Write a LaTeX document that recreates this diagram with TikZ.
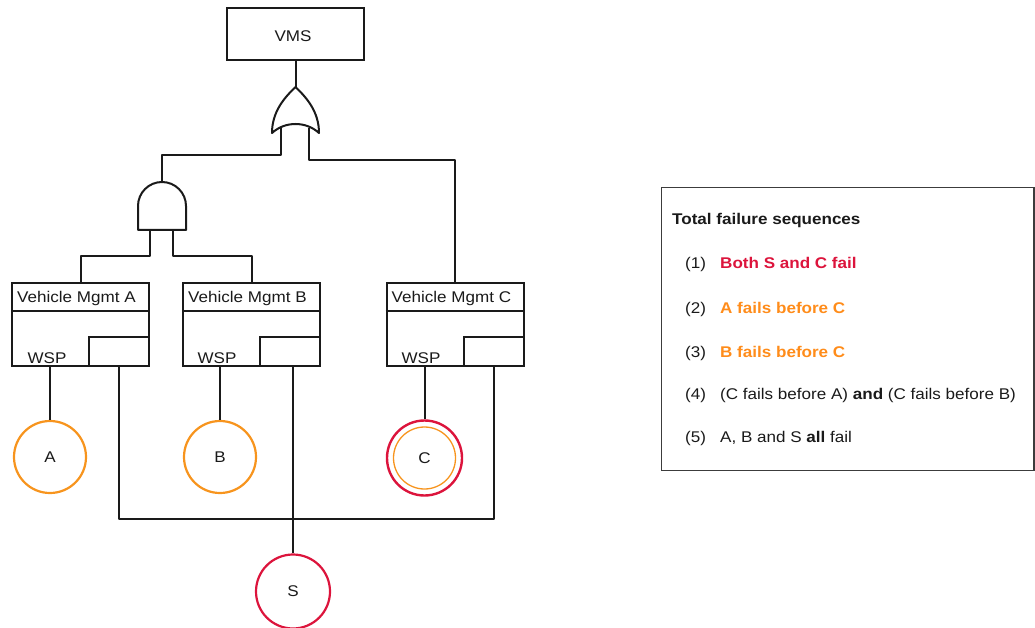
\documentclass[tikz,border=0pt]{standalone}
\usepackage{fontspec}
\setmainfont{Liberation Sans}[FakeStretch=1.1]
\definecolor{ink}{HTML}{1A1A1A}
\definecolor{failred}{HTML}{DC143C}
\definecolor{failorange}{HTML}{F7941D}
\definecolor{txtorange}{HTML}{FF8C1A}
\begin{document}
\begin{tikzpicture}[x=1pt,y=-1pt,
  wire/.style={line width=2pt, draw=ink, line join=round},
  block/.style={draw=ink, line width=2pt, rectangle, inner sep=0pt},
  lbl/.style={font=\fontsize{15.5}{18}\selectfont, text=ink, inner sep=0pt},
  event/.style={circle, draw=failorange, line width=2.2pt, minimum size=72pt, inner sep=0pt,
    font=\fontsize{15.5}{18}\selectfont, text=ink},
  listitem/.style={lbl, anchor=base west}
]
\useasboundingbox (0,0) rectangle (1035,628);

% top event
\node[block, minimum width=137pt, minimum height=52pt] (vms) at (295.5,34) {};
\node[lbl, anchor=base] at (293,42) {VMS};

% OR gate
\coordinate (or-out) at (295.5,87);
\coordinate (or-in1) at (281,128);
\coordinate (or-in2) at (309,128);
\draw[wire] (272,133) .. controls (272,112) and (284,98) .. (or-out)
  .. controls (307,98) and (319,112) .. (319,133)
  .. controls (306,121) and (285,121) .. cycle;

% AND gate
\coordinate (and-out) at (162,182);
\coordinate (and-in1) at (150,230);
\coordinate (and-in2) at (173,230);
\draw[wire] (138,230) -- (138,206) arc (180:0:24pt) -- (186,230) -- cycle;

% vehicle management blocks
\foreach \n/\cx/\t/\w in {A/80.5/Vehicle Mgmt A/47, B/251.5/Vehicle Mgmt B/217, C/455/Vehicle Mgmt C/421}{
  \node[block, minimum width=137pt, minimum height=83pt] (box\n) at (\cx,324.5) {};
  \draw[wire] (box\n.west |- 0,311) -- (box\n.east |- 0,311);
  \node[block, minimum width=60pt, minimum height=29pt, anchor=south east] (port\n) at (box\n.south east) {};
  \node[lbl, anchor=base west] at ([xshift=6pt]box\n.west |- 0,302) {\t};
  \node[lbl, anchor=base] at (\w,363) {WSP};
}

% basic events
\node[event] (A) at (50,457) {A};
\node[event] (B) at (220,457) {B};
\node[event, draw=failred, line width=2.4pt, minimum size=75pt] (C) at (424.5,458) {C};
\draw[failorange, line width=1.3pt] (C.center) circle[radius=31pt];
\node[event, draw=failred, minimum size=74pt] (S) at (293,591.5) {S};

% gate connections
\draw[wire] (vms.south) -- (or-out);
\draw[wire] (or-in1) -- ++(0,27) -| (and-out);
\draw[wire] (or-in2) -- ++(0,32) -| (boxC.north);
\draw[wire] (and-in1) -- ++(0,26) -| (boxA.north);
\draw[wire] (and-in2) -- ++(0,26) -| (boxB.north);

% WSP event connections
\draw[wire] (A.north) -- (A.north |- boxA.south);
\draw[wire] (B.north) -- (B.north |- boxB.south);
\draw[wire] (C.north) -- (C.north |- boxC.south);

% shared supply bus
\draw[wire] (portA.south) -- ++(0,152) -| (portC.south);
\draw[wire] (S.north) -- (S.north |- portB.south);

% failure sequence list
\draw[draw=ink!85, line width=1.6pt] (661.5,187.5) rectangle (1034,470.5);
\node[listitem, font=\fontsize{15.5}{18}\selectfont\bfseries] (title) at (672,225) {Total failure sequences};
\foreach \k/\y in {1/269, 2/313, 3/357, 4/399, 5/442}
  \node[listitem] (num\k) at (685,\y) {(\k)};
\node[listitem, text=failred, font=\fontsize{15.5}{18}\selectfont\bfseries] at (720,269) {Both S and C fail};
\node[listitem, text=txtorange, font=\fontsize{15.5}{18}\selectfont\bfseries] at (720,313) {A fails before C};
\node[listitem, text=txtorange, font=\fontsize{15.5}{18}\selectfont\bfseries] at (720,357) {B fails before C};
\node[listitem] at (720,399) {(C fails before A) \textbf{and} (C fails before B)};
\node[listitem] at (720,442) {A, B and S \textbf{all} fail};
\end{tikzpicture}
\end{document}
